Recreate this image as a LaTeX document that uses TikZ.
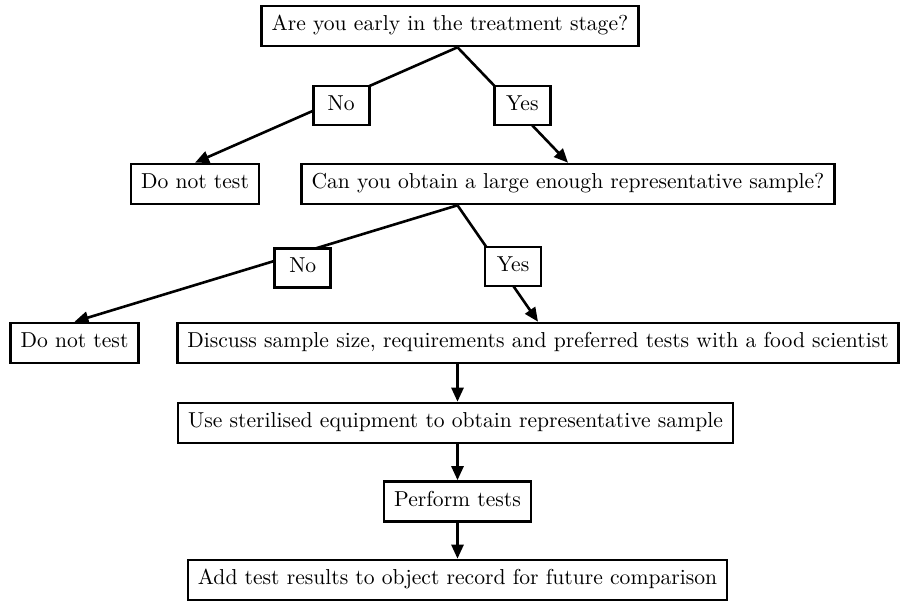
\documentclass[tikz,border=0pt]{standalone}
\usepackage{fontspec}
\setmainfont{lmroman10-regular.otf}
\usetikzlibrary{arrows.meta,calc}
\begin{document}
\begin{tikzpicture}[x=1pt,y=-1pt,
  box/.style={draw,line width=2.6pt,inner xsep=10pt,inner ysep=0pt,minimum height=40pt,
    text height=14.8pt,text depth=5pt,font=\fontsize{21.6}{25}\selectfont,fill=white},
  lab/.style={box,minimum width=56pt,minimum height=39pt,inner xsep=4pt},
  ln/.style={line width=2.6pt},
  arr/.style={ln,-{Triangle[length=14pt,width=12pt]}}]
\fill[white] (0,0) rectangle (902,600);
\useasboundingbox (0,0) rectangle (902,600);
\node[box] (q1) at (450,26) {Are you early in the treatment stage?};
\node[box] (dnt1) at (195,184) {Do not test};
\node[box] (q2) at (568,184) {Can you obtain a large enough representative sample?};
\node[box] (dnt2) at (74.5,343) {Do not test};
\node[box] (disc) at (538,343) {Discuss sample size, requirements and preferred tests with a food scientist};
\node[box] (use) at (455.5,423) {Use sterilised equipment to obtain representative sample};
\node[box] (perf) at (457.5,501.5) {Perform tests};
\node[box] (add) at (457.5,580) {Add test results to object record for future comparison};
\coordinate (b1) at (q1.south -| perf.north);
\coordinate (b2) at (q2.south -| perf.north);
\draw[arr] (b1) -- node[lab,pos=0.443,yshift=-7pt] (no1) {No} (dnt1.north);
\draw[arr] (b1) -- node[lab,pos=0.586,yshift=9.5pt] (yes1) {Yes} (q2.north);
\draw[arr] (b2) -- node[lab,pos=0.404,yshift=-15.5pt] (no2) {No} (dnt2.north);
\draw[arr] (b2) -- node[lab,pos=0.69,yshift=19pt] (yes2) {Yes} (disc.north);
\draw[arr] (disc.south -| perf.north) -- (use.north -| perf.north);
\draw[arr] (use.south -| perf.north) -- (perf.north);
\draw[arr] (perf.south) -- (add.north);
\end{tikzpicture}
\end{document}
